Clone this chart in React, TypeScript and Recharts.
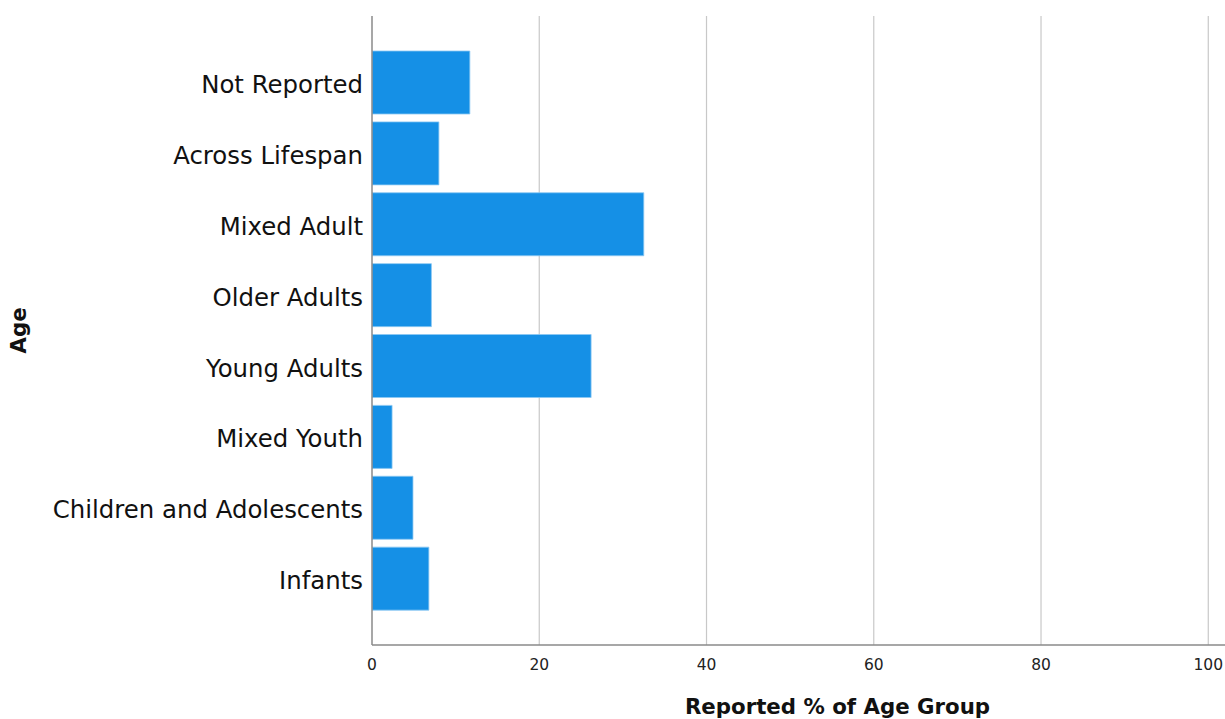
import React from "react";
import { BarChart, Bar, XAxis, YAxis, CartesianGrid } from "recharts";

const categories = [
  "Not Reported",
  "Across Lifespan",
  "Mixed Adult",
  "Older Adults",
  "Young Adults",
  "Mixed Youth",
  "Children and Adolescents",
  "Infants",
];
const values = [11.7, 8.0, 32.5, 7.1, 26.2, 2.4, 4.9, 6.8];
const xTicks = [0, 20, 40, 60, 80, 100];

const data = categories.map((c, i) => ({ name: c, value: values[i] }));

const FONT = "'DejaVu Sans', sans-serif";

export default function App() {
  return (
    <div style={{ position: "absolute", left: 0, top: 0, width: 1225, height: 719, background: "#fff" }}>
      <BarChart
        width={1225}
        height={719}
        data={data}
        layout="vertical"
        margin={{ top: 16, right: 0, bottom: 0, left: 0 }}
      >
        <CartesianGrid
          horizontal={false}
          vertical={true}
          stroke="#c8c8c8"
          strokeWidth={1.2}
          verticalValues={[20, 40, 60, 80, 100]}
        />
        <XAxis
          type="number"
          domain={[0, 102]}
          ticks={xTicks}
          allowDataOverflow
          height={74}
          tickLine={false}
          tickMargin={8}
          axisLine={{ stroke: "#8a8a8a", strokeWidth: 1.5 }}
          tick={{ fill: "#222", fontSize: 15.5, fontFamily: FONT }}
          label={(props: any) => {
            const vb = props.viewBox;
            return (
              <text
                x={vb.x + vb.width / 2 + 39}
                y={vb.y + vb.height - 5}
                textAnchor="middle"
                fontFamily={FONT}
                fontWeight="bold"
                fontSize={21.3}
                fill="#111"
              >
                Reported % of Age Group
              </text>
            );
          }}
        />
        <YAxis
          type="category"
          dataKey="name"
          width={372}
          padding={{ top: 31, bottom: 31 }}
          tickLine={false}
          tickMargin={3}
          axisLine={{ stroke: "#8a8a8a", strokeWidth: 1.5 }}
          tick={{ fill: "#111", fontSize: 24.4, fontFamily: FONT, dy: 2 }}
          interval={0}
          label={(props: any) => {
            const vb = props.viewBox;
            const cx = 18;
            const cy = vb.y + vb.height / 2;
            return (
              <text
                x={cx}
                y={cy}
                textAnchor="middle"
                dominantBaseline="central"
                transform={`rotate(-90, ${cx}, ${cy})`}
                fontFamily={FONT}
                fontWeight="bold"
                fontSize={21.3}
                fill="#111"
              >
                Age
              </text>
            );
          }}
        />
        <Bar
          dataKey="value"
          fill="#1590e6"
          stroke="#8cc8f2"
          strokeWidth={0.8}
          barSize={63}
          isAnimationActive={false}
        />
      </BarChart>
    </div>
  );
}
